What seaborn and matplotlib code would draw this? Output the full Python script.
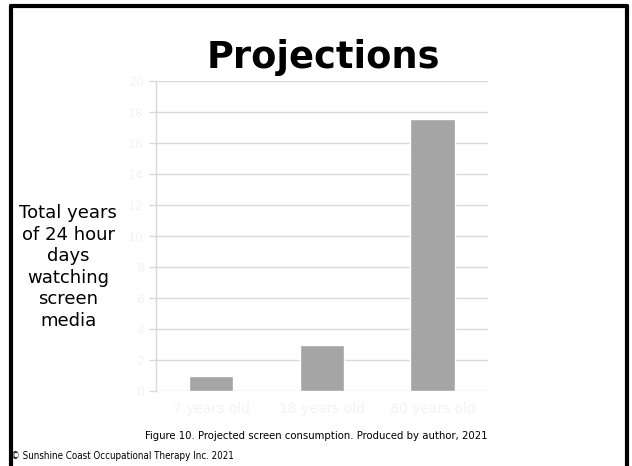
import matplotlib
matplotlib.use("Agg")
import matplotlib.pyplot as plt
import seaborn as sns
import pandas as pd
from matplotlib.lines import Line2D

categories = ["7 years old", "18 years old", "80 years old"]
values = [1.0, 3.0, 17.55]
yticks = [0, 2, 4, 6, 8, 10, 12, 14, 16, 18, 20]

sns.set_theme(style="white")
plt.rcParams['font.family'] = ['DejaVu Sans']

fig = plt.figure(figsize=(6.32, 4.66), dpi=100)
ax = fig.add_axes([155.7/632, 1-391/466, (488-155.7)/632, 310/466])

df = pd.DataFrame({"cat": categories, "val": values})
sns.barplot(data=df, x="cat", y="val", color="#a5a5a5", saturation=1, width=0.4, ax=ax, zorder=3)

ax.set_ylim(0, 20)
ax.set_yticks(yticks)
ax.set_yticklabels([str(t) for t in yticks], color="#f3f3f3", fontsize=9)
ax.tick_params(axis="x", colors="#f3f3f3", labelsize=10, length=0, pad=8)
ax.tick_params(axis="y", colors="#d9d9d9", length=5, width=1, labelcolor="#f3f3f3", left=True)
ax.set_xlabel("")
ax.set_ylabel("")
ax.yaxis.grid(True, color="#d9d9d9", linewidth=1)
ax.set_axisbelow(True)
for s in ["top", "right", "bottom"]:
    ax.spines[s].set_visible(False)
ax.spines["left"].set_color("#d9d9d9")
ax.spines["left"].set_linewidth(1)

# slide frame
lw = 3
fig.add_artist(Line2D([11/632, 11/632], [1-6/466, -0.02], transform=fig.transFigure, color="black", lw=lw))
fig.add_artist(Line2D([627/632, 627/632], [1-6/466, -0.02], transform=fig.transFigure, color="black", lw=lw))
fig.add_artist(Line2D([11/632, 627/632], [1-6/466, 1-6/466], transform=fig.transFigure, color="black", lw=lw))

fig.text(323/632, 1-57/466, "Projections", ha="center", va="center", fontsize=26.5, fontweight="bold", color="black")

fig.text(68/632, 1-267/466, "Total years\nof 24 hour\ndays\nwatching\nscreen\nmedia",
         ha="center", va="center", fontsize=13, linespacing=1.25, color="black")

fig.text(316/632, 1-436/466, "Figure 10. Projected screen consumption. Produced by author, 2021",
         ha="center", va="center", fontsize=8.1, fontstretch="condensed", color="black")
fig.text(11/632, 1-456/466, "\u00a9 Sunshine Coast Occupational Therapy Inc. 2021",
         ha="left", va="center", fontsize=7.0, fontstretch="condensed", color="black")

fig.savefig("out.png", dpi=100)
